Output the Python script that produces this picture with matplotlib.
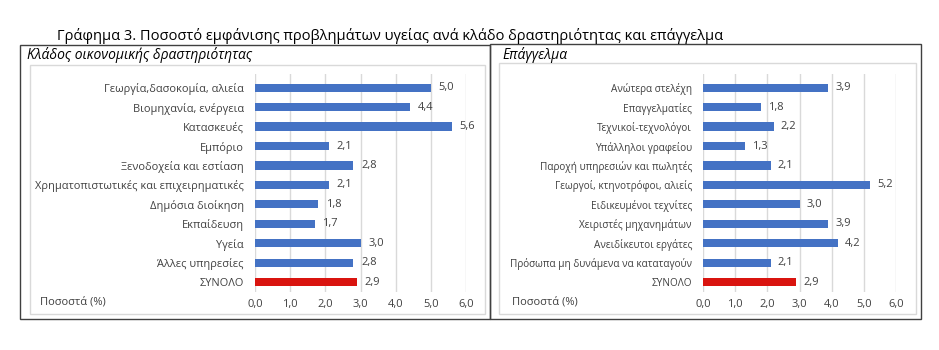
import matplotlib
matplotlib.use("Agg")
import matplotlib.pyplot as plt
from matplotlib.patches import Rectangle

# -------------------------------------------------------
# DATA
# -------------------------------------------------------
sectors = ["Γεωργία,δασοκομία, αλιεία", "Βιομηχανία, ενέργεια", "Κατασκευές",
           "Εμπόριο", "Ξενοδοχεία και εστίαση",
           "Χρηματοπιστωτικές και επιχειρηματικές", "Δημόσια διοίκηση",
           "Εκπαίδευση", "Υγεία", "Άλλες υπηρεσίες", "ΣΥΝΟΛΟ"]
sector_vals = [5.0, 4.4, 5.6, 2.1, 2.8, 2.1, 1.8, 1.7, 3.0, 2.8, 2.9]

jobs = ["Ανώτερα στελέχη", "Επαγγελματίες", "Τεχνικοί-τεχνολόγοι",
        "Υπάλληλοι γραφείου", "Παροχή υπηρεσιών και πωλητές",
        "Γεωργοί, κτηνοτρόφοι, αλιείς", "Ειδικευμένοι τεχνίτες",
        "Χειριστές μηχανημάτων", "Ανειδίκευτοι εργάτες",
        "Πρόσωπα μη δυνάμενα να καταταγούν", "ΣΥΝΟΛΟ"]
job_vals = [3.9, 1.8, 2.2, 1.3, 2.1, 5.2, 3.0, 3.9, 4.2, 2.1, 2.9]

xticks = [0, 1, 2, 3, 4, 5, 6]

BLUE = "#4472C4"
RED = "#D9140F"
TXT = "#404040"

plt.rcParams["font.family"] = ["Open Sans", "DejaVu Sans"]

W, H = 939, 350
fig = plt.figure(figsize=(W / 100, H / 100), dpi=100)


def px(x0, y0, x1, y1):
    # pixel box -> figure fraction [left, bottom, width, height]
    return [x0 / W, 1 - y1 / H, (x1 - x0) / W, (y1 - y0) / H]


def frame(x0, y0, x1, y1, color, lw):
    l, b, w, h = px(x0, y0, x1, y1)
    fig.patches.append(Rectangle((l, b), w, h, transform=fig.transFigure,
                                 fill=False, edgecolor=color, linewidth=lw))


# outer and inner frames
frame(20, 45, 490, 319, "#404040", 1.0)
frame(490, 44, 921, 319, "#404040", 1.0)
frame(30, 65, 485, 314, "#D9D9D9", 1.0)
frame(499, 63, 916, 314, "#D9D9D9", 1.0)

fig.text(57 / W, 1 - 36 / H,
         "Γράφημα 3. Ποσοστό εμφάνισης προβλημάτων υγείας ανά κλάδο δραστηριότητας και επάγγελμα",
         fontsize=10.5, va="center", ha="left", color="#000000")
fig.text(27 / W, 1 - 55 / H, "Κλάδος οικονομικής δραστηριότητας",
         fontsize=10, style="italic", va="center", ha="left", color="#000000")
fig.text(502 / W, 1 - 55 / H, "Επάγγελμα",
         fontsize=10, style="italic", va="center", ha="left", color="#000000")


def panel(rect, labels, vals, pct_x, lab_size):
    ax = fig.add_axes(rect)
    n = len(labels)
    pos = list(range(n))
    colors = [BLUE] * (n - 1) + [RED]
    ax.barh(pos, vals, height=0.42, color=colors, zorder=3)
    for p, v in zip(pos, vals):
        ax.text(v + 0.22, p, f"{v:.1f}".replace(".", ","), va="center",
                ha="left", fontsize=8, color=TXT, zorder=4)
    ax.set_xlim(0, 6)
    ax.set_ylim(n - 0.5, -0.7)
    ax.set_xticks(xticks)
    ax.set_xticklabels([f"{t:.1f}".replace(".", ",") for t in xticks],
                       fontsize=8, color=TXT)
    ax.set_yticks(pos)
    ax.set_yticklabels(labels, fontsize=lab_size, color=TXT)
    ax.tick_params(axis="both", length=0, pad=8)
    ax.tick_params(axis="x", pad=5)
    ax.grid(axis="x", color="#D9D9D9", linewidth=1.0, zorder=0)
    for s in ax.spines.values():
        s.set_visible(False)
    fig.text(pct_x / W, 1 - 302 / H, "Ποσοστά (%)", fontsize=8,
             color=TXT, va="center", ha="left")
    return ax


panel(px(255, 74, 466, 292), sectors, sector_vals, 40, 7.9)
panel(px(703, 74, 896, 292), jobs, job_vals, 512, 7.2)

fig.savefig("out.png", dpi=100)
